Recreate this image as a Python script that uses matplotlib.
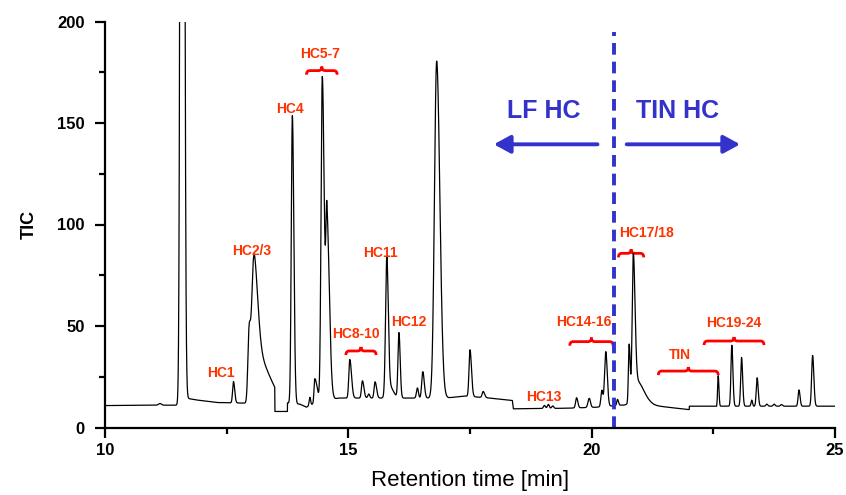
import numpy as np
import matplotlib
matplotlib.use('Agg')
import matplotlib.pyplot as plt
from matplotlib.path import Path
from matplotlib.patches import PathPatch

plt.rcParams['font.family'] = ['Liberation Sans', 'DejaVu Sans']

# baseline of the TIC trace (time [min], level)
base_t = [10.0, 11.1, 11.5, 11.65, 11.9, 12.3, 12.9, 13.45, 13.75, 14.0, 14.14, 14.3,
          14.8, 15.6, 16.3, 17.0, 17.4, 17.9, 18.37, 18.39, 19.5, 20.1, 20.6, 21.2,
          22.0, 22.6, 25.0]
base_v = [10.8, 11.0, 11.0, 14.5, 13.5, 12.3, 12.0, 12.0, 11.0, 11.5, 10.0, 12.0,
          14.5, 14.5, 14.5, 14.5, 15.5, 14.5, 13.3, 9.2, 9.5, 10.0, 11.0, 11.0,
          8.8, 10.5, 10.5]

# peaks: retention time, height above baseline, left / right width
peak_t = [11.586, 11.13, 12.64, 12.96, 13.05, 13.08, 13.85, 14.21, 14.31, 14.465, 14.56,
          15.03, 15.29, 15.42, 15.55, 15.79, 15.84, 16.04, 16.42, 16.53, 16.815, 17.50,
          17.77, 19.03, 19.11, 19.20, 19.69, 19.95, 20.21, 20.29, 20.53, 20.77, 20.855,
          20.92, 22.60, 22.88, 23.08, 23.29, 23.40, 23.60, 23.75, 23.90, 24.26, 24.54]
peak_h = [1200, 0.8, 10.5, 33, 50, 25, 142, 4, 12, 160, 88,
          19, 8.5, 2, 8, 66, 6, 32, 5, 13, 166, 23,
          3, 1.5, 2.0, 1.2, 5, 4.5, 8, 27, 3, 28, 66,
          12, 15, 30, 24, 3, 14, 1, 1, 0.8, 8, 25]
peak_sl = [0.028, 0.03, 0.018, 0.025, 0.04, 0.05, 0.022, 0.015, 0.015, 0.025, 0.022,
           0.02, 0.02, 0.02, 0.02, 0.025, 0.05, 0.02, 0.02, 0.022, 0.045, 0.02,
           0.02, 0.02, 0.02, 0.02, 0.02, 0.025, 0.02, 0.025, 0.015, 0.015, 0.022,
           0.08, 0.012, 0.018, 0.018, 0.015, 0.018, 0.02, 0.02, 0.02, 0.018, 0.02]
peak_sr = [0.032, 0.03, 0.025, 0.03, 0.08, 0.27, 0.03, 0.015, 0.05, 0.04, 0.05,
           0.035, 0.03, 0.02, 0.03, 0.03, 0.08, 0.025, 0.02, 0.03, 0.065, 0.03,
           0.03, 0.02, 0.02, 0.02, 0.025, 0.025, 0.02, 0.03, 0.02, 0.02, 0.035,
           0.15, 0.015, 0.022, 0.022, 0.015, 0.022, 0.02, 0.02, 0.02, 0.022, 0.025]

# flat parts of the trace (start, end, level)
gap_t0 = [13.49, 22.005]
gap_t1 = [13.75, 22.57]
gap_v = [7.9, 10.5]

# red labels
labels = ['HC1', 'HC2/3', 'HC4', 'HC5-7', 'HC8-10', 'HC11', 'HC12', 'HC13',
          'HC14-16', 'HC17/18', 'TIN', 'HC19-24']
label_t = [12.38, 13.01, 13.80, 14.42, 15.15, 15.65, 16.25, 19.02, 19.83, 21.13, 21.81, 22.91]
label_v = [26.8, 87.1, 156.9, 183.8, 45.9, 85.8, 51.8, 15.2, 52.1, 95.7, 35.6, 51.6]

# braces
brace_t0 = [14.14, 14.95, 19.55, 20.55, 21.37, 22.31]
brace_t1 = [14.77, 15.57, 20.44, 21.07, 22.60, 23.54]
brace_v = [175.8, 37.7, 42.3, 85.8, 27.8, 42.6]

split_t = 20.45

# build the trace
t = np.arange(10.0, 25.0001, 0.002)
y = np.interp(t, base_t, base_v)
for t0, h, sl, sr in zip(peak_t, peak_h, peak_sl, peak_sr):
    s = np.where(t < t0, sl, sr)
    y = y + h * np.exp(-(t - t0) ** 2 / (2 * s ** 2))
for a, b, lv in zip(gap_t0, gap_t1, gap_v):
    y[(t >= a) & (t <= b)] = lv

red = '#FF3300'
brace_red = '#FF0000'
blue = '#3333CC'

fig = plt.figure(figsize=(8.46, 4.95), dpi=100)
ax = fig.add_axes([105 / 846, 1 - 427.5 / 495, 730 / 846, 406 / 495])

ax.plot(t, y, color='black', lw=0.9)

ax.set_xlim(10, 25)
ax.set_ylim(0, 200)
ax.spines['top'].set_visible(False)
ax.spines['right'].set_visible(False)
for sp in ['left', 'bottom']:
    ax.spines[sp].set_linewidth(1.6)
ax.set_xticks([10, 15, 20, 25])
ax.set_xticks([12.5, 17.5, 22.5], minor=True)
ax.set_yticks([0, 50, 100, 150, 200])
ax.set_yticks([25, 75, 125, 175], minor=True)
ax.tick_params(which='major', length=7.5, width=1.6, direction='out')
ax.tick_params(which='minor', length=4, width=1.6, direction='out')
ax.tick_params(axis='x', which='major', pad=4)
ax.tick_params(axis='y', which='major', pad=7)
for lab in ax.get_xticklabels() + ax.get_yticklabels():
    lab.set_fontweight('bold')
    lab.set_fontsize(12)

ax.set_xlabel('Retention time [min]', fontsize=16, labelpad=8)
ax.set_ylabel('TIC', fontsize=13, fontweight='bold', labelpad=14)

# labels
for s, lt, lv in zip(labels, label_t, label_v):
    ax.text(lt, lv, s, color=red, fontsize=10, fontweight='bold', ha='center', va='center')

# braces
d = 0.07
hv = 2.0
for t0, t1, v in zip(brace_t0, brace_t1, brace_v):
    tc = (t0 + t1) / 2
    verts = [(t0, v - hv), (t0, v), (t0 + d, v), (tc - d, v), (tc, v), (tc, v + hv),
             (tc, v), (tc + d, v), (t1 - d, v), (t1, v), (t1, v - hv)]
    codes = [Path.MOVETO, Path.CURVE3, Path.CURVE3, Path.LINETO, Path.CURVE3, Path.CURVE3,
             Path.CURVE3, Path.CURVE3, Path.LINETO, Path.CURVE3, Path.CURVE3]
    ax.add_patch(PathPatch(Path(verts, codes), fill=False, edgecolor=brace_red, lw=2))

# LF / TIN split
ax.plot([split_t, split_t], [0, 195], color=blue, lw=2.8, linestyle=(0, (3, 1.8)))
arrow = dict(arrowstyle='-|>,head_length=0.55,head_width=0.3', color=blue, lw=2.8,
             mutation_scale=18, shrinkA=0, shrinkB=0)
ax.annotate('', xy=(17.99, 139.5), xytext=(20.12, 139.5), arrowprops=arrow)
ax.annotate('', xy=(23.05, 139.5), xytext=(20.72, 139.5), arrowprops=arrow)
ax.text(19.01, 156, 'LF HC', color=blue, fontsize=18, fontweight='bold', ha='center', va='center')
ax.text(21.76, 156, 'TIN HC', color=blue, fontsize=18, fontweight='bold', ha='center', va='center')

fig.savefig('out.png', dpi=100)
